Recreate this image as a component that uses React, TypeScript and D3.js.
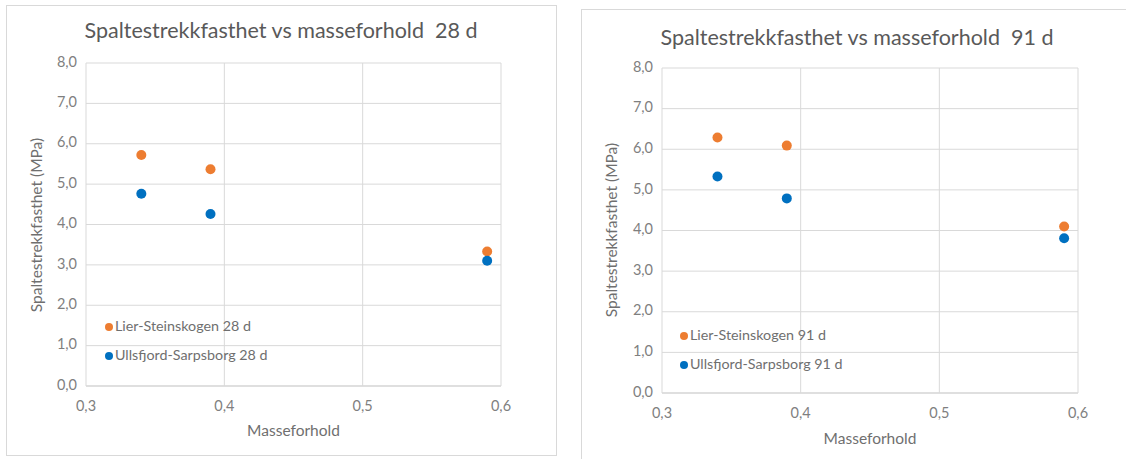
import React from "react";
import * as d3 from "d3";

const xValues = [0.34, 0.39, 0.59];
const lier28 = [5.72, 5.37, 3.33];
const ullsfjord28 = [4.76, 4.26, 3.1];
const lier91 = [6.29, 6.09, 4.1];
const ullsfjord91 = [5.33, 4.79, 3.81];
const xTicks = [0.3, 0.4, 0.5, 0.6];
const yTicks = [0, 1, 2, 3, 4, 5, 6, 7, 8];
const seriesNames28 = ["Lier-Steinskogen 28 d", "Ullsfjord-Sarpsborg 28 d"];
const seriesNames91 = ["Lier-Steinskogen 91 d", "Ullsfjord-Sarpsborg 91 d"];
const colors = ["#ED7D31", "#0070C0"];

const locale = d3.formatLocale({ decimal: ",", thousands: " ", grouping: [3], currency: ["", " kr"] });
const fmt = locale.format(".1f");

const FONT = "Lato, 'Open Sans', sans-serif";

type ChartProps = {
  title: string;
  names: string[];
  series: number[][];
  frame: { x: number; y: number; w: number; h: number };
  plot: { left: number; top: number; right: number; bottom: number };
  titlePos: { x: number; y: number };
  yTitlePos: { x: number; y: number };
  xTitleY: number;
  legend: { x: number; y: number; gap: number };
};

function Chart(p: ChartProps) {
  const x = d3.scaleLinear().domain([0.3, 0.6]).range([p.plot.left, p.plot.right]);
  const y = d3.scaleLinear().domain([0, 8]).range([p.plot.bottom, p.plot.top]);
  return (
    <g>
      <rect x={p.frame.x} y={p.frame.y} width={p.frame.w} height={p.frame.h} fill="#fff" stroke="#d9d9d9" strokeWidth={1} />
      <text x={p.titlePos.x} y={p.titlePos.y} textAnchor="middle" dominantBaseline="middle" fontFamily={FONT} fontSize={21.5} fill="#595959" style={{ whiteSpace: "pre" }}>
        {p.title}
      </text>
      {yTicks.map((t) => (
        <line key={"gy" + t} x1={p.plot.left} x2={p.plot.right} y1={y(t)} y2={y(t)} stroke={t === 0 ? "#bfbfbf" : "#d9d9d9"} strokeWidth={1} />
      ))}
      {xTicks.map((t) => (
        <line key={"gx" + t} x1={x(t)} x2={x(t)} y1={p.plot.top} y2={p.plot.bottom} stroke="#d9d9d9" strokeWidth={1} />
      ))}
      {yTicks.map((t) => (
        <text key={"ty" + t} x={p.plot.left - 9} y={y(t)} textAnchor="end" dominantBaseline="middle" fontFamily={FONT} fontSize={14.5} fill="#7f7f7f">
          {fmt(t)}
        </text>
      ))}
      {xTicks.map((t) => (
        <text key={"tx" + t} x={x(t)} y={p.plot.bottom + 21} textAnchor="middle" dominantBaseline="middle" fontFamily={FONT} fontSize={14.5} fill="#7f7f7f">
          {fmt(t)}
        </text>
      ))}
      <text x={(p.plot.left + p.plot.right) / 2} y={p.xTitleY} textAnchor="middle" dominantBaseline="middle" fontFamily={FONT} fontSize={15.5} fill="#6f6f6f">
        Masseforhold
      </text>
      <text transform={`translate(${p.yTitlePos.x},${p.yTitlePos.y}) rotate(-90)`} textAnchor="middle" dominantBaseline="middle" fontFamily={FONT} fontSize={15.5} fill="#6f6f6f">
        Spaltestrekkfasthet (MPa)
      </text>
      {p.series.map((s, si) =>
        s.map((v, i) => (
          <circle key={`p${si}-${i}`} cx={x(xValues[i])} cy={y(v)} r={5} fill={colors[si]} />
        ))
      )}
      {p.names.map((n, i) => (
        <g key={"lg" + i}>
          <circle cx={p.legend.x} cy={p.legend.y + i * p.legend.gap} r={4} fill={colors[i]} />
          <text x={p.legend.x + 6} y={p.legend.y + i * p.legend.gap} dominantBaseline="middle" fontFamily={FONT} fontSize={14.3} fill="#6f6f6f">
            {n}
          </text>
        </g>
      ))}
    </g>
  );
}

export default function App() {
  return (
    <svg width={1126} height={459} style={{ position: "absolute", left: 0, top: 0, background: "#fff" }}>
      <rect x={0} y={0} width={1126} height={459} fill="#fff" />
      <Chart
        title={"Spaltestrekkfasthet vs masseforhold  28 d"}
        names={seriesNames28}
        series={[lier28, ullsfjord28]}
        frame={{ x: 6.5, y: 5.5, w: 550, h: 450 }}
        plot={{ left: 86, top: 63, right: 501, bottom: 386 }}
        titlePos={{ x: 281, y: 33 }}
        yTitlePos={{ x: 38, y: 225 }}
        xTitleY={432}
        legend={{ x: 109, y: 327, gap: 29 }}
      />
      <Chart
        title={"Spaltestrekkfasthet vs masseforhold  91 d"}
        names={seriesNames91}
        series={[lier91, ullsfjord91]}
        frame={{ x: 581.5, y: 9.5, w: 560, h: 460 }}
        plot={{ left: 662, top: 68, right: 1078, bottom: 393 }}
        titlePos={{ x: 857, y: 40 }}
        yTitlePos={{ x: 613, y: 230 }}
        xTitleY={440}
        legend={{ x: 684, y: 336, gap: 29 }}
      />
    </svg>
  );
}
